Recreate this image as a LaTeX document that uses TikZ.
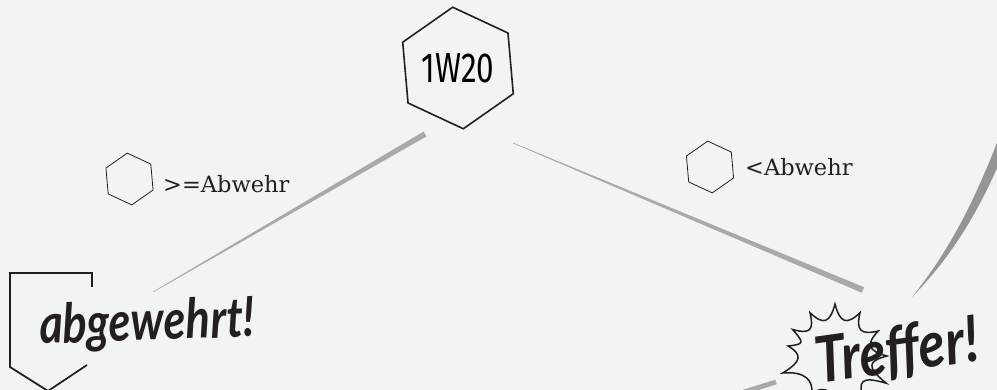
\documentclass[tikz,border=0pt]{standalone}
\usepackage{fontspec}
\setmainfont{DejaVu Serif}
\newfontfamily\wuerfelfont{Fira Sans}
\newfontfamily\pinselfont{Lato}
\usetikzlibrary{
  calc,positioning,shapes.geometric
}
\definecolor{papier}{HTML}{F2F3F5}
\definecolor{tinte}{HTML}{231F20}
\definecolor{pinselgrau}{HTML}{A8A9AC}
\definecolor{bogengrau}{HTML}{939598}
\newcommand{\pinsel}[4]{%
  \fill[pinselgrau] ($(#1)!#3!90:(#2)$) -- ($(#2)!#4!-90:(#1)$)
    -- ($(#2)!#4!90:(#1)$) -- ($(#1)!#3!-90:(#2)$) -- cycle;}

\begin{document}
\begin{tikzpicture}[x=1pt,y=-1pt,
  hexa/.style={draw=tinte,regular polygon,regular polygon sides=6,
    shape border rotate=35,inner sep=0pt},
  feld/.style={font=\fontsize{22.5}{26}\selectfont,text=tinte,
    anchor=base west,inner sep=0pt},
  pinseltext/.style={font=\pinselfont\bfseries\itshape,text=tinte,inner sep=0pt}]

\useasboundingbox (0,0) rectangle (997,390);
\fill[papier] (0,0) rectangle (997,390);
\clip (0,0) rectangle (997,390);

\node[hexa,line width=1.6pt,minimum size=122pt] (wurf) at (458,68)
  {\wuerfelfont\fontsize{42}{42}\selectfont\scalebox{0.75}[1]{1W20}};

\node[hexa,line width=0.8pt,minimum size=52pt] (hexGE) at (129.5,179) {};
\node[feld] (textGE) at (163,193) {>=Abwehr};
\node[hexa,line width=0.8pt,minimum size=52pt] (hexLT) at (710,167) {};
\node[feld] (textLT) at (745,176) {<Abwehr};

\coordinate (gA) at (425,134);
\coordinate (gB) at (153,292);
\coordinate (tA) at (513,143);
\coordinate (tB) at (863,290);
\coordinate (wA) at (776,382);
\coordinate (wB) at (728,397);
\pinsel{gA}{gB}{2.8pt}{0.3pt}
\pinsel{tB}{tA}{3pt}{0.3pt}
\pinsel{wA}{wB}{2.4pt}{2.4pt}

\coordinate (bA) at (912,297);
\fill[bogengrau] (bA) .. controls (950,250) and (975,200) .. (1000,135)
  -- (1010,137) .. controls (984,203) and (956,252) .. (bA) -- cycle;

\draw[tinte,line width=1.8pt] (92,287) -- (92,273) -- (10,273) -- (10,367)
  -- (48,391) -- (87,365);
\node[pinseltext,anchor=base west,rotate=2] (abgewehrt) at (40,344)
  {\fontsize{55}{55}\selectfont\scalebox{0.82}[1]{abgewehrt!}};

\coordinate (knall) at (835,356);
\draw[tinte,line width=1.5pt] ($(knall)+(88:46)$)
  \foreach \w/\r [remember=\w as \v (initially 88)] in
    {57/53,28/58,0/52,-30/50,-60/50,-90/52,-120/50,-148/50,-168/48,162/55,122/44,88/46}
    { .. controls ($(knall)+(\v-9:33)$) and ($(knall)+(\w+9:33)$) .. ($(knall)+(\w:\r)$) }
  -- cycle;
\node[pinseltext,anchor=base,rotate=8] (treffer) at (900,372)
  {\fontsize{64}{64}\selectfont\scalebox{0.85}[1]{Treffer!}};
\end{tikzpicture}
\end{document}
